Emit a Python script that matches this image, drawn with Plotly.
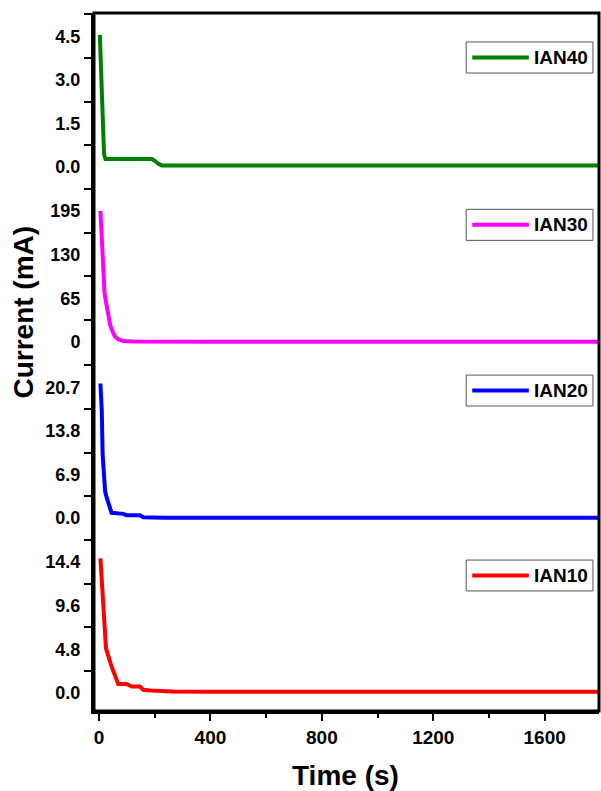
import plotly.graph_objects as go
from plotly.subplots import make_subplots

# ---- data ----
time_ian40 = [3, 7, 10, 12, 15, 18, 23, 60, 120, 190, 200, 212, 225, 400, 800, 1200, 1600, 1800]
cur_ian40 = [4.55, 3.45, 2.5, 1.75, 0.75, 0.45, 0.28, 0.28, 0.28, 0.28, 0.22, 0.12, 0.06, 0.06, 0.06, 0.06, 0.06, 0.06]

time_ian30 = [5, 8, 10, 13, 15, 20, 27, 33, 40, 50, 57, 70, 87, 123, 200, 400, 800, 1200, 1600, 1800]
cur_ian30 = [195, 168, 145, 115, 95, 72, 55, 40, 25, 14, 8, 3.5, 1.2, 0.4, 0, 0, 0, 0, 0, 0]

time_ian20 = [5, 10, 13, 18, 22, 28, 35, 45, 87, 99, 147, 159, 231, 400, 800, 1200, 1600, 1800]
cur_ian20 = [21.3, 16.9, 10.1, 5.8, 4.2, 3.2, 2.2, 0.84, 0.68, 0.47, 0.47, 0.16, 0.05, 0.05, 0.05, 0.05, 0.05, 0.05]

time_ian10 = [5, 15, 25, 45, 69, 99, 117, 147, 159, 183, 267, 400, 800, 1200, 1600, 1800]
cur_ian10 = [14.8, 10.1, 4.9, 2.9, 0.98, 0.98, 0.69, 0.69, 0.33, 0.25, 0.14, 0.12, 0.12, 0.12, 0.12, 0.12]

series_names = ["IAN40", "IAN30", "IAN20", "IAN10"]
series_colors = ["#008000", "#FF00FF", "#0000FF", "#FF0000"]
y_steps = [1.5, 65, 6.9, 4.8]
y_labels = [["0.0", "1.5", "3.0", "4.5"],
            ["0", "65", "130", "195"],
            ["0.0", "6.9", "13.8", "20.7"],
            ["0.0", "4.8", "9.6", "14.4"]]
y_ranges = [[-0.7, 5.3], [-30, 230], [-2.9, 24.7], [-2.0, 17.2]]
x_ticks = [0, 400, 800, 1200, 1600]
x_range = [-18, 1795]
legend_boxes = [(0.656, 0.834), (0.697, 0.875), (0.748, 0.925), (0.688, 0.865)]

times = [time_ian40, time_ian30, time_ian20, time_ian10]
currents = [cur_ian40, cur_ian30, cur_ian20, cur_ian10]

FONT = "Liberation Sans, Arial, sans-serif"

fig = make_subplots(rows=4, cols=1, shared_xaxes=True, vertical_spacing=0)

for i in range(4):
    r = i + 1
    fig.add_trace(go.Scatter(x=times[i], y=currents[i], mode="lines",
                             line=dict(color=series_colors[i], width=4),
                             name=series_names[i], showlegend=False),
                  row=r, col=1)
    step = y_steps[i]
    fig.update_yaxes(row=r, col=1,
                     range=y_ranges[i],
                     tickmode="array",
                     tickvals=[k * step for k in range(4)],
                     ticktext=y_labels[i],
                     ticks="outside", ticklen=7, tickcolor="rgba(0,0,0,0)",
                     minor=dict(ticks="outside", ticklen=7, tickwidth=2, tickcolor="black",
                                tickmode="linear", tick0=step / 2, dtick=step),
                     showline=True, linewidth=3, linecolor="black",
                     showgrid=False, zeroline=False,
                     tickfont=dict(family=FONT, size=18, color="black", weight="bold"))
    # legend-like box drawn in each panel
    yref = "y domain" if r == 1 else f"y{r} domain"
    xref = "x domain" if r == 1 else f"x{r} domain"
    y0, y1 = legend_boxes[i]
    ym = (y0 + y1) / 2
    fig.add_shape(type="rect", xref=xref, yref=yref, x0=0.737, x1=0.988, y0=y0, y1=y1,
                  line=dict(color="#555555", width=1), fillcolor="white")
    fig.add_shape(type="line", xref=xref, yref=yref, x0=0.749, x1=0.861, y0=ym, y1=ym,
                  line=dict(color=series_colors[i], width=4))
    fig.add_annotation(xref=xref, yref=yref, x=0.867, y=ym, text=series_names[i],
                       showarrow=False, xanchor="left", yanchor="middle",
                       font=dict(family=FONT, size=19, color="black", weight="bold"))

for r in range(1, 5):
    if r < 4:
        fig.update_xaxes(row=r, col=1, range=x_range, showticklabels=False, ticks="",
                         showline=False, showgrid=False, zeroline=False)
    else:
        fig.update_xaxes(row=r, col=1, range=x_range, tickmode="array", tickvals=x_ticks,
                         ticktext=[str(v) for v in x_ticks],
                         ticks="outside", ticklen=7, tickwidth=2, tickcolor="black",
                         minor=dict(ticks="outside", ticklen=4, tickwidth=2, tickcolor="black",
                                    tickmode="linear", tick0=200, dtick=400),
                         showline=True, linewidth=3, linecolor="black",
                         showgrid=False, zeroline=False,
                         tickfont=dict(family=FONT, size=19, color="black", weight="bold"))

# outer frame
fig.add_shape(type="rect", xref="paper", yref="paper", x0=0, x1=1, y0=0, y1=1,
              line=dict(color="black", width=3), layer="above")

fig.add_annotation(xref="paper", yref="paper", x=-0.139, y=0.572, text="Current (mA)",
                   textangle=-90, showarrow=False, xanchor="center", yanchor="middle",
                   font=dict(family=FONT, size=28, color="black", weight="bold"))
fig.add_annotation(xref="paper", yref="paper", x=0.499, y=-0.092, text="Time (s)",
                   showarrow=False, xanchor="center", yanchor="middle",
                   font=dict(family=FONT, size=28, color="black", weight="bold"))

fig.update_layout(width=601, height=791,
                  margin=dict(l=94, r=2, t=13, b=80),
                  paper_bgcolor="white", plot_bgcolor="white",
                  showlegend=False)

fig.write_html("out.html")
